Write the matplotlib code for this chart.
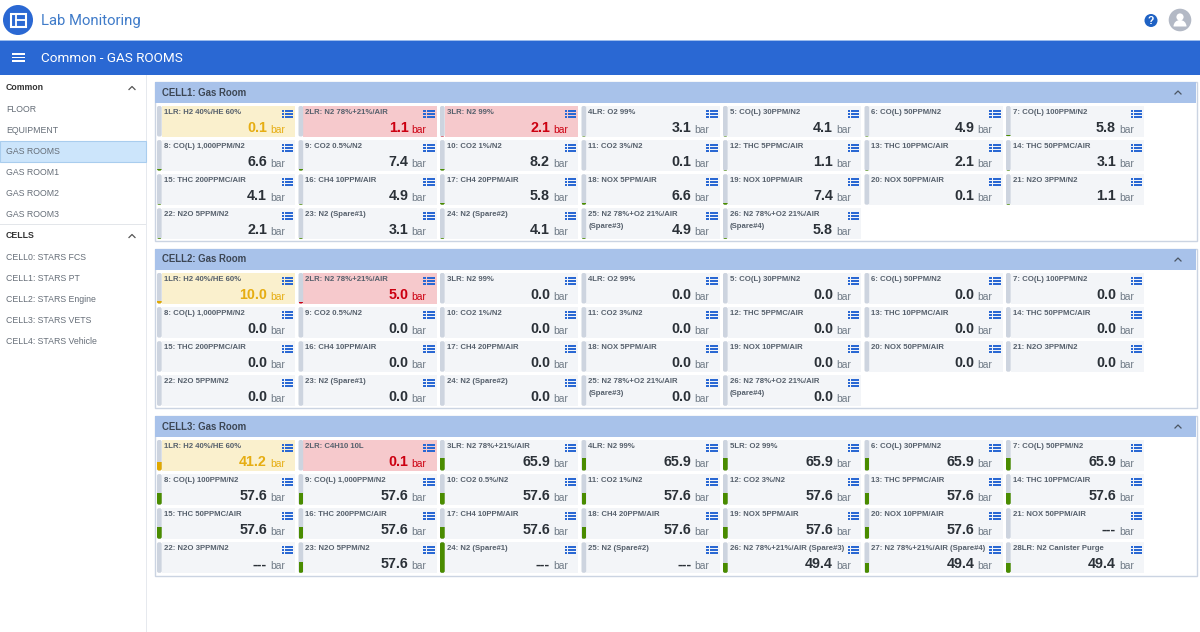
import matplotlib
matplotlib.use('Agg')
import matplotlib.pyplot as plt
from matplotlib.patches import Rectangle, Circle, FancyBboxPatch, Wedge

plt.rcParams['font.family'] = ['Liberation Sans', 'DejaVu Sans']

common_menu = ['FLOOR', 'EQUIPMENT', 'GAS ROOMS', 'GAS ROOM1', 'GAS ROOM2', 'GAS ROOM3']
cells_menu = ['CELL0: STARS FCS', 'CELL1: STARS PT', 'CELL2: STARS Engine', 'CELL3: STARS VETS', 'CELL4: STARS Vehicle']

names_a = ['1LR: H2 40%/HE 60%', '2LR: N2 78%+21%/AIR', '3LR: N2 99%', '4LR: O2 99%',
           '5: CO(L) 30PPM/N2', '6: CO(L) 50PPM/N2', '7: CO(L) 100PPM/N2',
           '8: CO(L) 1,000PPM/N2', '9: CO2 0.5%/N2', '10: CO2 1%/N2', '11: CO2 3%/N2',
           '12: THC 5PPMC/AIR', '13: THC 10PPMC/AIR', '14: THC 50PPMC/AIR',
           '15: THC 200PPMC/AIR', '16: CH4 10PPM/AIR', '17: CH4 20PPM/AIR', '18: NOX 5PPM/AIR',
           '19: NOX 10PPM/AIR', '20: NOX 50PPM/AIR', '21: N2O 3PPM/N2',
           '22: N2O 5PPM/N2', '23: N2 (Spare#1)', '24: N2 (Spare#2)',
           '25: N2 78%+O2 21%/AIR\n(Spare#3)', '26: N2 78%+O2 21%/AIR\n(Spare#4)']
names_c = ['1LR: H2 40%/HE 60%', '2LR: C4H10 10L', '3LR: N2 78%+21%/AIR', '4LR: N2 99%',
           '5LR: O2 99%', '6: CO(L) 30PPM/N2', '7: CO(L) 50PPM/N2',
           '8: CO(L) 100PPM/N2', '9: CO(L) 1,000PPM/N2', '10: CO2 0.5%/N2', '11: CO2 1%/N2',
           '12: CO2 3%/N2', '13: THC 5PPMC/AIR', '14: THC 10PPMC/AIR',
           '15: THC 50PPMC/AIR', '16: THC 200PPMC/AIR', '17: CH4 10PPM/AIR', '18: CH4 20PPM/AIR',
           '19: NOX 5PPM/AIR', '20: NOX 10PPM/AIR', '21: NOX 50PPM/AIR',
           '22: N2O 3PPM/N2', '23: N2O 5PPM/N2', '24: N2 (Spare#1)', '25: N2 (Spare#2)',
           '26: N2 78%+21%/AIR (Spare#3)', '27: N2 78%+21%/AIR (Spare#4)', '28LR: N2 Canister Purge']

values_1 = ['0.1', '1.1', '2.1', '3.1', '4.1', '4.9', '5.8',
            '6.6', '7.4', '8.2', '0.1', '1.1', '2.1', '3.1',
            '4.1', '4.9', '5.8', '6.6', '7.4', '0.1', '1.1',
            '2.1', '3.1', '4.1', '4.9', '5.8']
values_2 = ['10.0', '5.0', '0.0', '0.0', '0.0', '0.0', '0.0',
            '0.0', '0.0', '0.0', '0.0', '0.0', '0.0', '0.0',
            '0.0', '0.0', '0.0', '0.0', '0.0', '0.0', '0.0',
            '0.0', '0.0', '0.0', '0.0', '0.0']
values_3 = ['41.2', '0.1', '65.9', '65.9', '65.9', '65.9', '65.9',
            '57.6', '57.6', '57.6', '57.6', '57.6', '57.6', '57.6',
            '57.6', '57.6', '57.6', '57.6', '57.6', '57.6', '---',
            '---', '57.6', '---', '---', '49.4', '49.4', '49.4']

# gauge fill, percent of the track
gauge_1 = [0, 0, 1, 2, 3, 3, 4,
           4, 5, 5, 0, 1, 1, 2,
           3, 3, 4, 4, 5, 0, 1,
           1, 2, 3, 3, 4]
gauge_2 = [7, 4, 0, 0, 0, 0, 0,
           0, 0, 0, 0, 0, 0, 0,
           0, 0, 0, 0, 0, 0, 0,
           0, 0, 0, 0, 0]
gauge_3 = [27, 0, 42, 42, 42, 42, 42,
           37, 37, 37, 37, 37, 37, 37,
           37, 37, 37, 37, 37, 37, 0,
           0, 37, 100, 0, 31, 31, 31]

# state per card: 0 normal, 1 warning, 2 alarm
state_1 = [1, 2, 2]
state_2 = [1, 2]
state_3 = [1, 2]

BLUE = '#2a68d3'
GREY_TEXT = '#666e78'
LABEL = '#56606c'
fig = plt.figure(figsize=(12, 6.32), dpi=100)
ax = fig.add_axes([0, 0, 1, 1])
ax.set_xlim(0, 1200)
ax.set_ylim(632, 0)
ax.axis('off')


def rect(x, y, w, h, color, **kw):
    ax.add_patch(Rectangle((x, y), w, h, facecolor=color, edgecolor='none', **kw))


def chevron(x, y, color='#555555'):
    ax.plot([x - 3, x, x + 3], [y + 1.5, y - 1.5, y + 1.5], color=color, lw=0.9)


def list_icon(x, y):
    # small blue list glyph
    for i in range(3):
        rect(x, y + i * 3, 2.3, 1.9, BLUE)
        rect(x + 3.4, y + i * 3, 8, 1.9, BLUE)


def card(x, y, name, value, gauge, state):
    bg = ['#f3f5f8', '#faf0cd', '#f6c9cc'][state]
    num = ['#2b3138', '#e6ad12', '#cc0011'][state]
    unit = ['#6f7a86', '#e6ad12', '#cc0011'][state]
    fill = ['#4a8c00', '#e0a800', '#cc0011'][state]
    rect(x + 4.5, y, 133.5, 30.5, bg)
    track = FancyBboxPatch((x, y), 4.7, 30.5, boxstyle='round,pad=0,rounding_size=1.8',
                           facecolor='#cdd4df', edgecolor='none')
    ax.add_patch(track)
    if gauge > 0:
        h = 30.5 * gauge / 100
        r = Rectangle((x, y + 30.5 - h), 4.7, h, facecolor=fill, edgecolor='none')
        ax.add_patch(r)
        r.set_clip_path(track)
    # each label line is its own text, the second one sits left of the value
    for k, line in enumerate(name.split('\n')):
        ax.text(x + 6.7, y + 6.3 + k * 11.5, line, fontsize=5.55, fontweight='bold', color=LABEL,
                va='center', ha='left')
    list_icon(x + 124.7, y + 4)
    ax.text(x + 110, y + 26, value, fontsize=10.3, fontweight='bold', color=num, va='baseline', ha='right')
    ax.text(x + 113, y + 27, 'bar', fontsize=7.4, color=unit, va='baseline', ha='left')


def panel(top, title, names, values, gauges, states, bottom):
    ax.add_patch(Rectangle((154.5, top), 1042, bottom - top, facecolor='white', edgecolor='#cbd4e2', lw=1))
    rect(155, top, 1041, 21, '#a8c2ea')
    ax.text(162, top + 10.5, title, fontsize=6.9, fontweight='bold', color='#3c4654', va='center', ha='left')
    chevron(1178, top + 10.5, '#4a5563')
    for i in range(len(names)):
        col = i % 7
        row = i // 7
        state = states[i] if i < len(states) else 0
        card(157 + col * 141.5, top + 24 + row * 34.1, names[i], values[i], gauges[i], state)


# page header
rect(0, 41, 1200, 34, BLUE)
rect(0, 40, 1200, 1, '#9dbcec')
ax.add_patch(Circle((18, 20), 15, facecolor=BLUE, edgecolor='none'))
ax.add_patch(Rectangle((10.5, 13.5), 15, 13, facecolor='none', edgecolor='white', lw=1.5))
ax.plot([15.5, 15.5], [13.5, 26.5], color='white', lw=1.3)
ax.plot([15.5, 25.5], [20, 20], color='white', lw=1.3)
ax.text(41, 20.5, 'Lab Monitoring', fontsize=10.7, color='#3f7bc9', va='center', ha='left', family='Roboto')
ax.text(41, 58, 'Common - GAS ROOMS', fontsize=9.7, color='white', va='center', ha='left', family='Roboto')
for yy in (54, 57.5, 61):
    rect(12, yy - 0.7, 13, 1.4, 'white')

ax.add_patch(Circle((1151, 20.5), 6.5, facecolor='#1f62c4', edgecolor='none'))
ax.text(1151, 20.8, '?', fontsize=7.5, fontweight='bold', color='white', va='center', ha='center')
ax.add_patch(Circle((1180, 20), 11.3, facecolor='#b3b9c5', edgecolor='none'))
ax.add_patch(Circle((1180, 17), 3.6, facecolor='white', edgecolor='none'))
ax.add_patch(Wedge((1180, 26.5), 6.5, 180, 360, facecolor='white', edgecolor='none'))

# sidebar
rect(146, 75, 1, 557, '#e6e9ee')
ax.text(6, 87, 'Common', fontsize=6.35, fontweight='bold', color='#333333', va='center', ha='left')
chevron(132, 88)
for i, m in enumerate(common_menu):
    yy = 109 + i * 21
    if m == 'GAS ROOMS':
        ax.add_patch(Rectangle((0, yy - 10), 146, 21, facecolor='#cce5fb', edgecolor='#a9cdee', lw=0.8))
    ax.text(6, yy + 0.5, m, fontsize=6.35, color=GREY_TEXT, va='center', ha='left')
rect(0, 224, 146, 1, '#e3e6ea')
ax.text(6, 235, 'CELLS', fontsize=6.35, fontweight='bold', color='#333333', va='center', ha='left')
chevron(132, 236)
for i, m in enumerate(cells_menu):
    ax.text(6, 258 + i * 20.8, m, fontsize=6.35, color=GREY_TEXT, va='center', ha='left')

panel(82, 'CELL1: Gas Room', names_a, values_1, gauge_1, state_1, 241)
panel(249, 'CELL2: Gas Room', names_a, values_2, gauge_2, state_2, 408)
panel(416, 'CELL3: Gas Room', names_c, values_3, gauge_3, state_3, 576)

fig.savefig('out.png', dpi=100)
